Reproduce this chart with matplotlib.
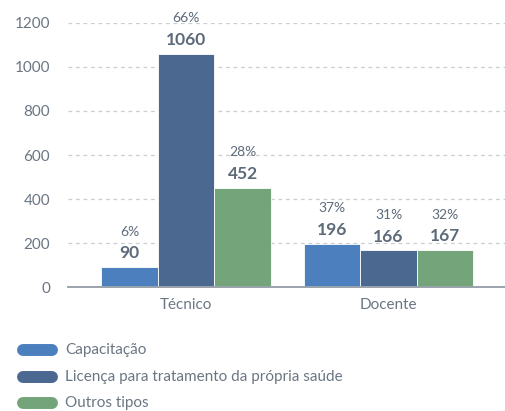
import matplotlib.pyplot as plt
import numpy as np
from matplotlib.lines import Line2D

plt.rcParams['font.family'] = ['Lato', 'DejaVu Sans']

categories = ['Técnico', 'Docente']
series = ['Capacitação', 'Licença para tratamento da própria saúde', 'Outros tipos']
counts = [
    [90, 196],    # Capacitação
    [1060, 166],  # Licença
    [452, 167],   # Outros tipos
]
shares = [
    [6, 37],
    [66, 31],
    [28, 32],
]
colors = ['#4b7fbe', '#4a6890', '#74a47a']

text_col = '#5d6a79'
tick_col = '#6b7683'

fig = plt.figure(figsize=(5.06, 4.11), dpi=100)
ax = fig.add_axes([68 / 506, 1 - 287 / 411, 438 / 506, 264 / 411])

x = np.arange(len(categories))
width = 0.279
for i, (name, vals, pcts, c) in enumerate(zip(series, counts, shares, colors)):
    pos = x + (i - 1) * width
    bars = ax.bar(pos, vals, width, color=c, edgecolor='white', linewidth=0.6, zorder=3)
    for b, v, p in zip(bars, vals, pcts):
        cx = b.get_x() + b.get_width() / 2
        ax.annotate(str(v), (cx, v), xytext=(0, 10), textcoords='offset points',
                    ha='center', va='center', fontsize=12.5, fontweight='bold',
                    color=text_col, annotation_clip=False, zorder=4)
        ax.annotate(f'{p}%', (cx, v), xytext=(0, 25.5), textcoords='offset points',
                    ha='center', va='center', fontsize=10,
                    color=text_col, annotation_clip=False, zorder=4)

ax.set_xlim(-0.583, 1.58)
ax.set_ylim(0, 1200)
ax.set_yticks(range(0, 1201, 200))
ax.set_xticks(x)
ax.set_xticklabels(categories)
ax.tick_params(axis='y', length=0, pad=13, labelsize=11, labelcolor=tick_col)
ax.tick_params(axis='x', length=0, pad=8, labelsize=11, labelcolor=tick_col)

for s in ['top', 'right', 'left']:
    ax.spines[s].set_visible(False)
ax.spines['bottom'].set_color('#9aa3ab')
ax.spines['bottom'].set_linewidth(1.4)
ax.spines['bottom'].set_zorder(5)

ax.yaxis.grid(True, linestyle=(0, (3, 3)), color='#c9ced3', linewidth=0.9)
ax.set_axisbelow(True)
ax.get_ygridlines()[0].set_visible(False)

# legend: rounded pills drawn by hand
for k, (name, c) in enumerate(zip(series, colors)):
    yc = 1 - (350 + 26.5 * k) / 411
    fig.add_artist(Line2D([23 / 506, 52 / 506], [yc, yc], transform=fig.transFigure,
                          color=c, linewidth=8.6, solid_capstyle='round'))
    fig.text(65 / 506, yc, name, ha='left', va='center', fontsize=11, color=tick_col)

fig.savefig('out.png', dpi=100)
